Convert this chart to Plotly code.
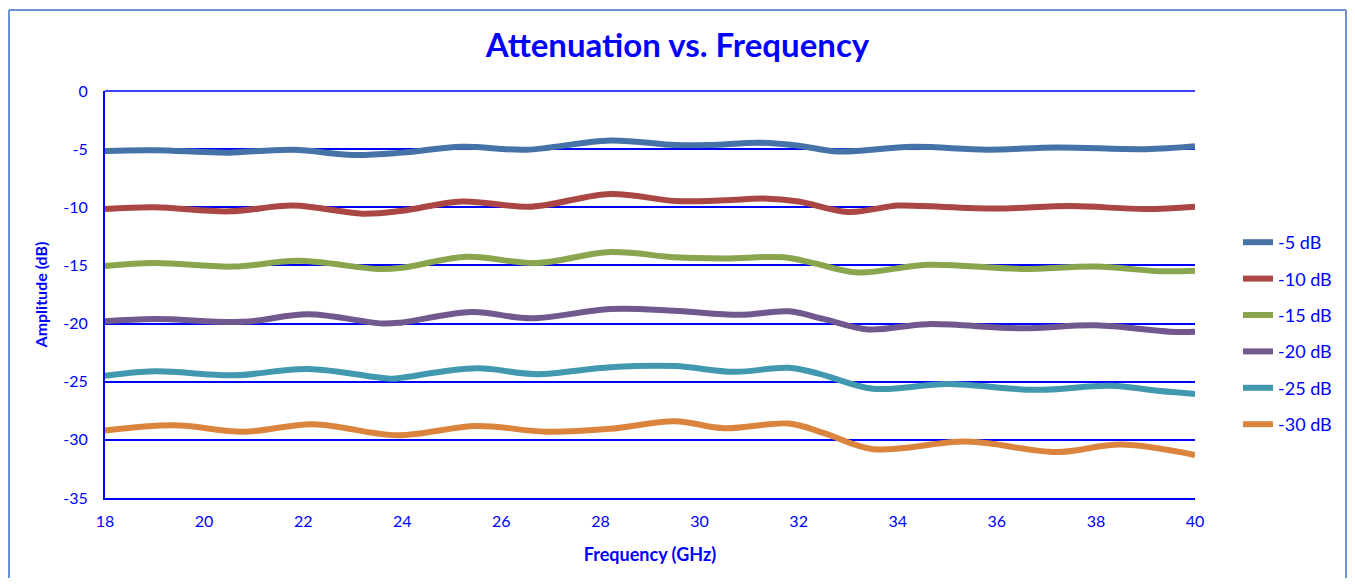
import plotly.graph_objects as go

# ---- data ----
f_5 = [18, 19, 20, 20.5, 21.8, 23, 24, 25.2, 26.5, 28.2, 29.5, 30.2, 31.2, 32, 32.8, 34.3, 35.8, 37.2, 39, 40]
a_5 = [-5.15, -5.1, -5.25, -5.3, -5.05, -5.5, -5.3, -4.8, -5.05, -4.25, -4.65, -4.65, -4.45, -4.7, -5.2, -4.8, -5.05, -4.85, -5.0, -4.75]

f_10 = [18, 19, 20.5, 21.8, 23.2, 24, 25.2, 26.6, 28.2, 29.5, 30.5, 31.3, 32, 33, 34, 34.5, 36, 37.5, 39, 40]
a_10 = [-10.15, -10.0, -10.35, -9.85, -10.55, -10.3, -9.5, -9.95, -8.85, -9.45, -9.4, -9.25, -9.5, -10.4, -9.85, -9.9, -10.1, -9.9, -10.15, -9.95]

f_15 = [18, 19, 20.6, 21.9, 23.5, 24, 25.3, 26.7, 28.2, 29.5, 30.5, 31.7, 32.3, 33.2, 34.6, 36.5, 38, 39.3, 40]
a_15 = [-15.05, -14.8, -15.1, -14.6, -15.3, -15.2, -14.25, -14.8, -13.85, -14.3, -14.4, -14.3, -14.8, -15.6, -14.95, -15.3, -15.1, -15.5, -15.45]

f_20 = [18, 19, 20.8, 22.1, 23.6, 24, 25.4, 26.6, 28.2, 29.5, 30.8, 31.8, 32.5, 33.4, 34.6, 36.5, 38, 39.5, 40]
a_20 = [-19.8, -19.6, -19.85, -19.2, -20.0, -19.9, -19.0, -19.55, -18.75, -18.9, -19.25, -18.95, -19.6, -20.5, -20.05, -20.4, -20.15, -20.7, -20.7]

f_25 = [18, 19, 20.6, 22.1, 23.8, 24, 25.5, 26.7, 28.2, 29.5, 30.7, 31.8, 32.4, 33.5, 35, 36.8, 38.3, 39.3, 40]
a_25 = [-24.5, -24.1, -24.45, -23.9, -24.75, -24.65, -23.85, -24.35, -23.75, -23.65, -24.15, -23.8, -24.3, -25.6, -25.2, -25.7, -25.35, -25.8, -26.05]

f_30 = [18, 19.4, 20.8, 22.2, 23.9, 25.5, 26.9, 28.2, 29.5, 30.5, 31.8, 32.5, 33.5, 35.4, 37.2, 38.5, 40]
a_30 = [-29.2, -28.75, -29.3, -28.65, -29.6, -28.8, -29.3, -29.05, -28.4, -29.0, -28.6, -29.4, -30.8, -30.15, -31.05, -30.4, -31.3]

names = ["-5 dB", "-10 dB", "-15 dB", "-20 dB", "-25 dB", "-30 dB"]
colors = ["#4572A7", "#AA4643", "#89A54E", "#71588F", "#4198AF", "#DB843D"]
series = [(f_5, a_5), (f_10, a_10), (f_15, a_15), (f_20, a_20), (f_25, a_25), (f_30, a_30)]

x_ticks = list(range(18, 41, 2))
y_ticks = list(range(0, -36, -5))
y_ticktext = [str(v) for v in y_ticks]

BLUE = "#0000FF"
FONT = "Lato"

fig = go.Figure()
for (fx, ay), nm, c in zip(series, names, colors):
    fig.add_trace(go.Scatter(x=fx, y=ay, name=nm, mode="lines",
                             line=dict(color=c, width=6, shape="spline", smoothing=1.0),
                             legendgroup=nm))

OFF = 8  # default body margin of the html page
W, H = 1355 - 2 * OFF, 586 - 2 * OFF
L, R, T, B = 105 - OFF, 1195 - OFF, 91 - OFF, 498 - OFF


def px(x):
    return (x - OFF - L) / (R - L)


def py(y):
    return (B - (y - OFF)) / (B - T)


BORDER = "#6A93CF"

fig.update_layout(
    width=W, height=H,
    margin=dict(l=L, r=W - R, t=T, b=H - B, autoexpand=False),
    paper_bgcolor="white", plot_bgcolor="white",
    font=dict(family=FONT, color=BLUE, size=16),
    title=dict(text="<b>Attenuation vs. Frequency</b>", x=0.5, xanchor="center",
               y=1 - (45 - OFF) / H, yanchor="middle",
               font=dict(family=FONT, size=33, color=BLUE)),
    xaxis=dict(range=[18, 40], tickvals=x_ticks, showgrid=False, zeroline=False,
               showline=True, linecolor=BLUE, linewidth=2, ticks="",
               ticklabelstandoff=8,
               tickfont=dict(size=16, color=BLUE),
               title=dict(text="<b>Frequency (GHz)</b>", font=dict(size=18, color=BLUE), standoff=19)),
    yaxis=dict(range=[-35, 0], tickvals=y_ticks, ticktext=y_ticktext, showgrid=True,
               gridcolor=BLUE, gridwidth=1.5,
               zeroline=False, showline=True, linecolor=BLUE, linewidth=2, ticks="",
               ticklabelstandoff=12,
               tickfont=dict(size=16, color=BLUE),
               title=dict(text="<b>Amplitude (dB)</b>", font=dict(size=16, color=BLUE), standoff=12)),
    legend=dict(x=px(1238), y=py(224), xanchor="left", yanchor="top",
                font=dict(size=18, color=BLUE), traceorder="grouped", tracegroupgap=10,
                bgcolor="rgba(0,0,0,0)"),
    shapes=[
        # outer chart box
        dict(type="line", xref="paper", yref="paper",
             x0=px(9), x1=px(1346), y0=py(10), y1=py(10),
             line=dict(color=BORDER, width=2)),
        dict(type="line", xref="paper", yref="paper",
             x0=px(9), x1=px(9), y0=py(10), y1=py(580),
             line=dict(color=BORDER, width=2)),
        dict(type="line", xref="paper", yref="paper",
             x0=px(1346), x1=px(1346), y0=py(10), y1=py(580),
             line=dict(color=BORDER, width=2)),
        # top gridline at 0 dB
        dict(type="line", xref="paper", yref="paper",
             x0=0, x1=1, y0=1, y1=1, line=dict(color=BLUE, width=1.5)),
    ],
)

fig.write_html("out.html")
